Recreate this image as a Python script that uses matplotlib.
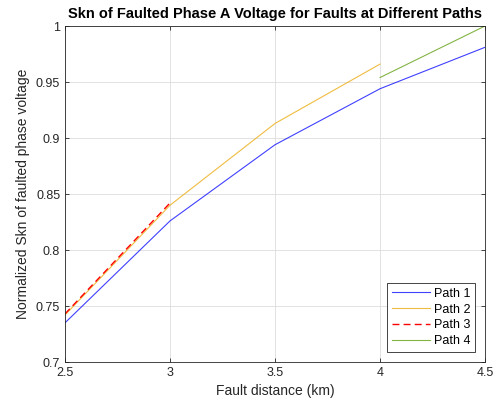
import matplotlib.pyplot as plt

plt.rcParams['font.family'] = ['Liberation Sans', 'DejaVu Sans']

# -------------- Data --------------
x_p1 = [2.5, 3.0, 3.5, 4.0, 4.5]
y_p1 = [0.735, 0.826, 0.894, 0.944, 0.981]
x_p2 = [2.5, 3.0, 3.5, 4.0]
y_p2 = [0.742, 0.840, 0.913, 0.966]
x_p3 = [2.5, 3.0]
y_p3 = [0.743, 0.842]
x_p4 = [4.0, 4.5]
y_p4 = [0.954, 1.000]
xticks = [2.5, 3, 3.5, 4, 4.5]
yticks = [0.7, 0.75, 0.8, 0.85, 0.9, 0.95, 1.0]
# ----------------------------------

fig = plt.figure(figsize=(4.98, 4.05), dpi=100)
ax = fig.add_axes([0.1305, 0.106, 0.8435, 0.8298])

ax.plot(x_p1, y_p1, color='#0000ff', lw=0.8, alpha=0.75, label='Path 1')
ax.plot(x_p2, y_p2, color='#EDB120', lw=0.8, alpha=0.85, label='Path 2')
ax.plot(x_p3, y_p3, color='#ff0000', lw=1.0, ls=(0, (5, 3)), label='Path 3')
ax.plot(x_p4, y_p4, color='#77AC30', lw=0.8, alpha=0.9, label='Path 4')

ax.set_xlim(2.5, 4.5)
ax.set_ylim(0.7, 1.0)
ax.set_xticks(xticks)
ax.set_xticklabels(['2.5', '3', '3.5', '4', '4.5'])
ax.set_yticks(yticks)
ax.set_yticklabels(['0.7', '0.75', '0.8', '0.85', '0.9', '0.95', '1'])
ax.grid(True, color='#dddddd', lw=0.6)
ax.tick_params(direction='in', length=3, labelsize=9, colors='#262626', width=0.6,
               top=True, right=True)
for s in ax.spines.values():
    s.set_color('#262626')
    s.set_linewidth(0.6)

ax.set_xlabel('Fault distance (km)', fontsize=10, color='#262626')
ax.set_ylabel('Normalized Skn of faulted phase voltage', fontsize=10, color='#262626')
ax.set_title('Skn of Faulted Phase A Voltage for Faults at Different Paths',
             fontsize=10.5, fontweight='bold', pad=6)

leg = ax.legend(loc='lower right', fontsize=9, fancybox=False, framealpha=1,
                edgecolor='#262626', handlelength=3.0, borderpad=0.4,
                labelspacing=0.3, handletextpad=0.3, borderaxespad=0.8)
leg.get_frame().set_linewidth(0.6)

fig.savefig('out.png', dpi=100)
